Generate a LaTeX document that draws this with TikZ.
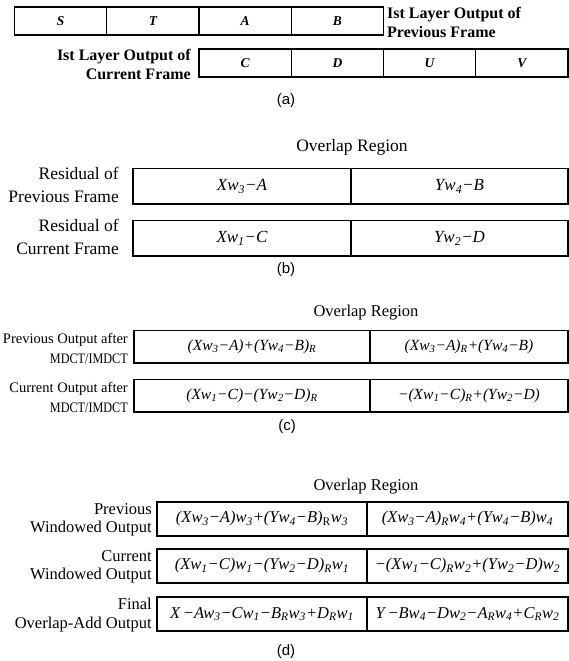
\documentclass[tikz,border=0pt]{standalone}
\usepackage{graphicx}
\usepackage{fontspec}
\setmainfont{Liberation Serif}
\newfontfamily\capfont{Liberation Sans}
\newcommand{\sbx}[1]{\textsubscript{#1}}
\newcommand{\narrow}[1]{\scalebox{0.84}[1]{#1}}
\begin{document}
\begin{tikzpicture}[x=1pt,y=-1pt,
  cell/.style={draw, line width=1.4pt, inner sep=0pt, minimum width=#1},
  acell/.style={cell=92.25pt, minimum height=28pt, font=\fontsize{13.5}{15}\selectfont\bfseries\itshape},
  bcell/.style={cell=#1, minimum height=35.5pt, font=\fontsize{17}{19}\selectfont\itshape},
  ccell/.style={cell=#1, minimum height=32.5pt, font=\fontsize{15.5}{17}\selectfont\itshape},
  dcell/.style={cell=#1, minimum height=34pt, font=\fontsize{16.5}{18}\selectfont\itshape},
  alabel/.style={font=\fontsize{16}{19}\selectfont\bfseries, inner sep=0pt},
  blabel/.style={font=\fontsize{17.5}{23.5}\selectfont, align=right, anchor=east, inner sep=0pt},
  clabel/.style={font=\fontsize{14.5}{20}\selectfont, align=right, anchor=east, inner sep=0pt},
  dlabel/.style={font=\fontsize{16.5}{18.5}\selectfont, align=right, anchor=east, inner sep=0pt},
  overlap/.style={font=\fontsize{#1}{18}\selectfont},
  tag/.style={font=\capfont\fontsize{15}{17}\selectfont}]
\useasboundingbox (0,0) rectangle (569,661);

% ---- (a) first-layer outputs of the two frames
\node[acell] (S) at (60.6,21) {S};
\node[acell] (T) at (152.9,21) {T};
\node[acell] (A) at (245.1,21) {A};
\node[acell] (B) at (337.4,21) {B};
\node[alabel, align=left, anchor=west] (prevA) at (387,22) {Ist Layer Output of\\Previous Frame};
\node[acell] (C) at (245.1,63) {C};
\node[acell] (D) at (337.4,63) {D};
\node[acell] (U) at (429.6,63) {U};
\node[acell] (V) at (521.9,63) {V};
\node[alabel, align=right, anchor=east] (curA) at (191,64) {Ist Layer Output of\\Current Frame};
\node[tag] (ta) at (286,101) {(a)};

% ---- (b) residuals in the overlap region
\node[overlap=17.5] (ovb) at (352,147) {Overlap Region};
\node[bcell=218pt] (b11) at (242,186.25) {Xw\sbx{3}−A};
\node[bcell=217pt] (b12) at (459.5,186.25) {Yw\sbx{4}−B};
\node[bcell=218pt] (b21) at (242,238.25) {Xw\sbx{1}−C};
\node[bcell=217pt] (b22) at (459.5,238.25) {Yw\sbx{2}−D};
\node[blabel] (lb1) at (119,185) {Residual of\\Previous Frame};
\node[blabel] (lb2) at (119,237) {Residual of\\Current Frame};
\node[tag] (tb) at (286,270) {(b)};

% ---- (c) outputs after MDCT/IMDCT
\node[overlap=16.5] (ovc) at (366,313) {Overlap Region};
\node[ccell=236pt] (c11) at (252,346.75) {(Xw\sbx{3}−A)+(Yw\sbx{4}−B)\sbx{R}};
\node[ccell=198pt] (c12) at (469,346.75) {(Xw\sbx{3}−A)\sbx{R}+(Yw\sbx{4}−B)};
\node[ccell=236pt] (c21) at (252,395.75) {(Xw\sbx{1}−C)−(Yw\sbx{2}−D)\sbx{R}};
\node[ccell=198pt] (c22) at (469,395.75) {−(Xw\sbx{1}−C)\sbx{R}+(Yw\sbx{2}−D)};
\node[clabel] (lc1) at (128,348) {Previous Output after\\\narrow{MDCT/IMDCT}};
\node[clabel] (lc2) at (128,397) {Current Output after\\\narrow{MDCT/IMDCT}};
\node[tag] (tc) at (287,427) {(c)};

% ---- (d) windowing and overlap-add
\node[overlap=16.5] (ovd) at (366,487) {Overlap Region};
\node[dcell=210pt] (d11) at (262,519) {(Xw\sbx{3}−A)w\sbx{3}+(Yw\sbx{4}−B)\sbx{\upshape R}w\sbx{3}};
\node[dcell=201pt] (d12) at (467.5,519) {(Xw\sbx{3}−A)\sbx{R}w\sbx{4}+(Yw\sbx{4}−B)w\sbx{4}};
\node[dcell=210pt] (d21) at (262,566) {(Xw\sbx{1}−C)w\sbx{1}−(Yw\sbx{2}−D)\sbx{R}w\sbx{1}};
\node[dcell=201pt] (d22) at (467.5,566) {−(Xw\sbx{1}−C)\sbx{R}w\sbx{2}+(Yw\sbx{2}−D)w\sbx{2}};
\node[dcell=210pt] (d31) at (262,614) {X\,−Aw\sbx{3}−Cw\sbx{1}−B\sbx{R}w\sbx{3}+D\sbx{R}w\sbx{1}};
\node[dcell=201pt] (d32) at (467.5,614) {Y\,−Bw\sbx{4}−Dw\sbx{2}−A\sbx{R}w\sbx{4}+C\sbx{R}w\sbx{2}};
\node[dlabel] (ld1) at (152,520) {Previous\\Windowed Output};
\node[dlabel] (ld2) at (152,567) {Current\\Windowed Output};
\node[dlabel] (ld3) at (152,615) {Final\\Overlap-Add Output};
\node[tag] (td) at (286,652) {(d)};
\end{tikzpicture}
\end{document}
